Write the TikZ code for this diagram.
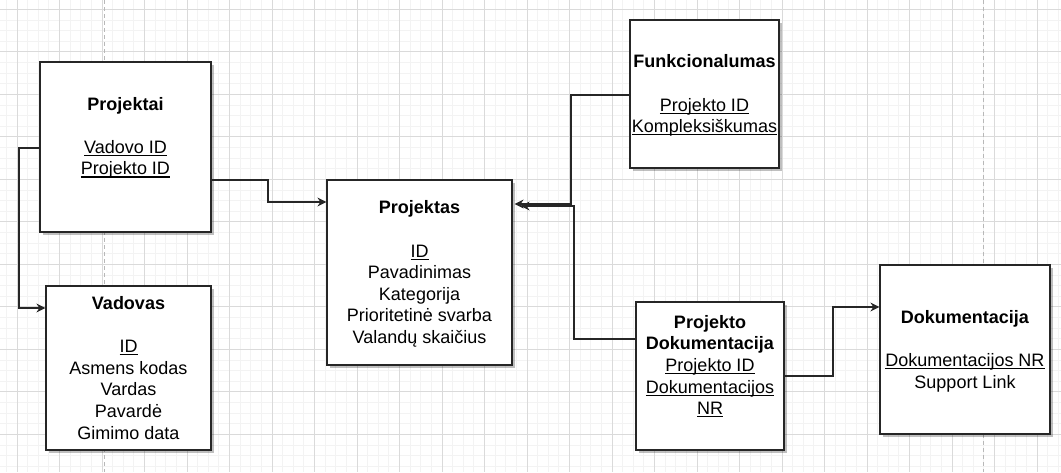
\documentclass[tikz,border=0pt]{standalone}
\usepackage{fontspec}
\setmainfont{Liberation Sans}
\usetikzlibrary{arrows.meta,shadows}
\newcommand\entfont{\fontsize{18}{21.6}\selectfont}
\newcommand\ls{\rule[-4.6pt]{0pt}{21.6pt}}
\newsavebox\ulbox
\newcommand\ulx[1]{\sbox\ulbox{#1}\rlap{\rule[-2.7pt]{\wd\ulbox}{1.1pt}}\usebox\ulbox}
\definecolor{minorc}{HTML}{F3F3F3}
\definecolor{majorc}{HTML}{DADADA}
\definecolor{pagec}{HTML}{B8B8B8}
\tikzset{
  entity/.style={rectangle, draw=black!85, line width=1.2pt, fill=white, inner sep=0pt,
    align=center, font=\entfont,
    drop shadow={shadow xshift=2.5pt, shadow yshift=-2.5pt, fill=black, opacity=0.25}},
  conn/.style={draw=black!85, line width=1.1pt, -{Stealth[length=9pt,width=9pt,inset=3pt]}},
  minorgrid/.style={draw=minorc, line width=0.8pt},
  majorgrid/.style={draw=majorc, line width=0.9pt},
  pageline/.style={draw=pagec, line width=1pt, dash pattern=on 4pt off 3pt}
}
\begin{document}
\begin{tikzpicture}[x=1pt,y=-1pt]
\useasboundingbox (0,0) rectangle (1061,472);
\fill[white] (0,0) rectangle (1061,472);
% grid
\foreach \i in {0,...,99} {\draw[minorgrid] ({6.375+10.625*\i},0) -- ({6.375+10.625*\i},472);}
\foreach \i in {0,...,45} {\draw[minorgrid] (0,{-1.325+10.625*\i}) -- (1061,{-1.325+10.625*\i});}
\foreach \i in {0,...,24} {\draw[majorgrid] ({17+42.5*\i},0) -- ({17+42.5*\i},472);}
\foreach \i in {0,...,11} {\draw[majorgrid] (0,{9.3+42.5*\i}) -- (1061,{9.3+42.5*\i});}
\draw[pageline] (104,0) -- (104,472);
\draw[pageline] (983,0) -- (983,472);

% entities
\node[entity, minimum width=171pt, minimum height=170pt] (projektai) at (125.5,147)
  {\ls\textbf{Projektai}\\ \ls\\ \ls\ulx{Vadovo ID}\\ \ls\ulx{Projekto ID}\\ \ls};
\node[entity, minimum width=165pt, minimum height=164pt] (vadovas) at (128.5,368)
  {\ls\textbf{Vadovas}\\ \ls\\ \ls\ulx{ID}\\ \ls Asmens kodas\\ \ls Vardas\\ \ls Pavardė\\ \ls Gimimo data};
\node[entity, minimum width=185pt, minimum height=185pt] (projektas) at (419.5,272.5)
  {\ls\textbf{Projektas}\\ \ls\\ \ls\ulx{ID}\\ \ls Pavadinimas\\ \ls Kategorija\\ \ls Prioritetinė svarba\\ \ls Valandų skaičius};
\node[entity, minimum width=149pt, minimum height=148pt] (funk) at (704.5,94)
  {\ls\textbf{Funkcionalumas}\\ \ls\\ \ls\ulx{Projekto ID}\\ \ls\ulx{Kompleksiškumas}};
\node[entity, minimum width=148pt, minimum height=148pt] (pd) at (710,376)
  {\ls\textbf{Projekto}\\ \ls\textbf{Dokumentacija}\\ \ls\ulx{Projekto ID}\\ \ls\ulx{Dokumentacijos}\\ \ls\ulx{NR}\\ \ls};
\node[entity, minimum width=170pt, minimum height=169pt] (dok) at (965,349.5)
  {\ls\textbf{Dokumentacija}\\ \ls\\ \ls\ulx{Dokumentacijos NR}\\ \ls Support Link};

% connectors
\coordinate (pe1) at ([xshift=2pt]projektas.east);
\coordinate (pe2) at ([xshift=8pt]projektas.east);
\draw[conn] (projektai.east |- 0,180) -| (268,202) -- (projektas.west |- 0,202);
\draw[conn] (projektai.west |- 0,148) -| (19,308) -- (vadovas.west |- 0,308);
\draw[conn] (funk.west |- 0,95) -| (571,204) -- (pe1 |- 0,204);
\draw[conn] (pd.west |- 0,339) -| (574,206) -- (pe2 |- 0,206);
\draw[conn] (pd.east |- 0,376) -| (833,307) -- (dok.west |- 0,307);
\end{tikzpicture}
\end{document}
